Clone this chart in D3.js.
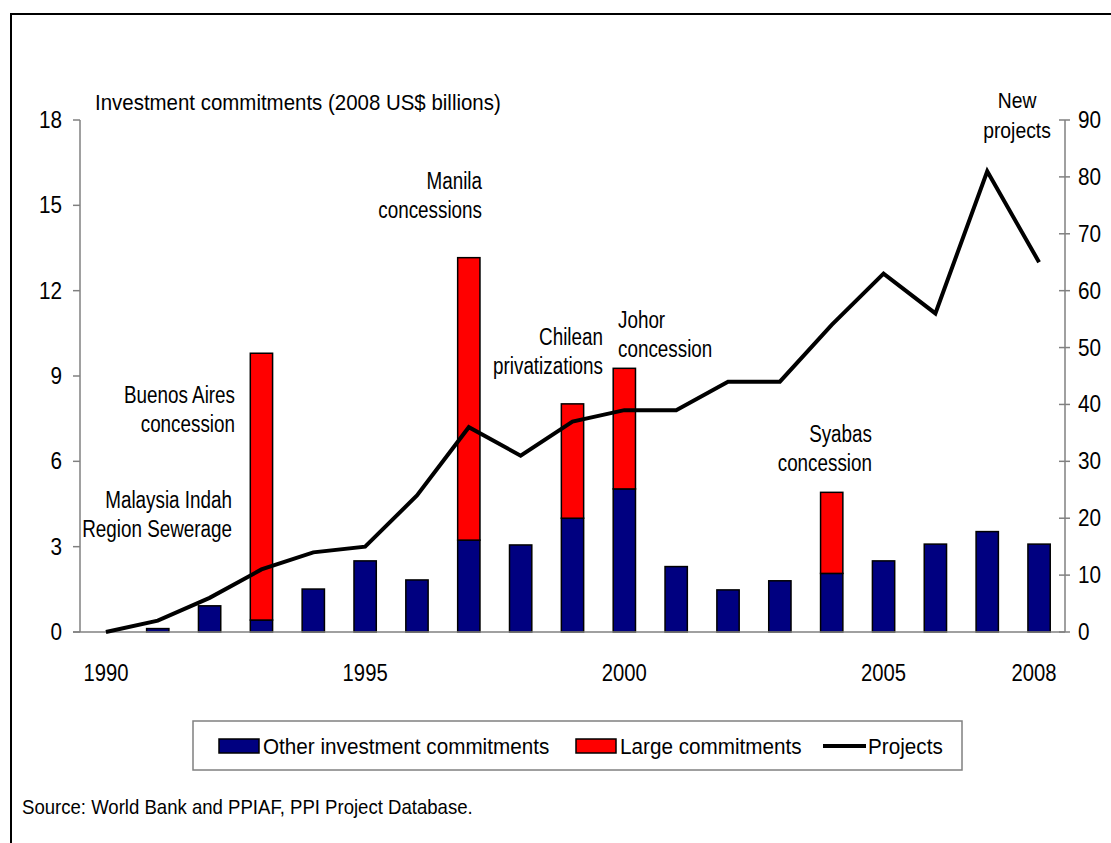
<!DOCTYPE html>
<html><head><meta charset="utf-8">
<script src="https://cdn.jsdelivr.net/npm/d3@7"></script>
<style>
html,body{margin:0;padding:0;background:#fff;}
svg{display:block;font-family:"Liberation Sans",Arial,sans-serif;}
</style></head>
<body>
<svg id="chart" width="1111" height="843"></svg>
<script>
const years = ["1990","1991","1992","1993","1994","1995","1996","1997","1998","1999","2000","2001","2002","2003","2004","2005","2006","2007","2008"];
const otherCommit = [0,0.12,0.92,0.42,1.51,2.5,1.83,3.23,3.06,4.0,5.03,2.3,1.48,1.8,2.06,2.5,3.09,3.53,3.09];
const largeCommit = [0,0,0,9.38,0,0,0,9.93,0,4.02,4.24,0,0,0,2.85,0,0,0,0];
const projects = [0,2,6,11,14,15,24,36,31,37,39,39,44,44,54,63,56,81,65];
const yearLabels = ["1990","1995","2000","2005","2008"];
const leftTicks = [0,3,6,9,12,15,18];
const rightTicks = [0,10,20,30,40,50,60,70,80,90];
const annotations = [
  {lines:["Manila","concessions"], x:482, y:189, anchor:"end"},
  {lines:["Buenos Aires","concession"], x:235, y:403, anchor:"end"},
  {lines:["Malaysia Indah","Region Sewerage"], x:232, y:508, anchor:"end"},
  {lines:["Chilean","privatizations"], x:603, y:345, anchor:"end"},
  {lines:["Johor","concession"], x:618, y:328, anchor:"start"},
  {lines:["Syabas","concession"], x:872, y:442, anchor:"end"}
];

const svg = d3.select("#chart");
const L = 80, R = 1065, T = 120, B = 632;
const x = d3.scaleBand().domain(years).range([L, R]).padding(0);
const yL = d3.scaleLinear().domain([0,18]).range([B,T]);
const yR = d3.scaleLinear().domain([0,90]).range([B,T]);
const barW = x.bandwidth()*0.43;

function txt(parent, px, py, s, size, anchor, sx){
  const g = parent.append("g").attr("transform",`translate(${px},${py}) scale(${sx},1)`);
  g.append("text").attr("x",0).attr("y",0).attr("text-anchor",anchor)
   .attr("font-size",size).attr("fill","#000").text(s);
  return g;
}

// frame
svg.append("path").attr("d","M11,843 L11,14 L1111,14").attr("fill","none").attr("stroke","#000").attr("stroke-width",2);

// bars
const data = years.map((yr,i)=>({yr, o:otherCommit[i], l:largeCommit[i], p:projects[i]}));
svg.append("g").selectAll("rect.o").data(data.filter(d=>d.o>0)).join("rect")
  .attr("x",d=>x(d.yr)+(x.bandwidth()-barW)/2).attr("width",barW)
  .attr("y",d=>yL(d.o)).attr("height",d=>yL(0)-yL(d.o))
  .attr("fill","#000080").attr("stroke","#000").attr("stroke-width",1.5);
svg.append("g").selectAll("rect.l").data(data.filter(d=>d.l>0)).join("rect")
  .attr("x",d=>x(d.yr)+(x.bandwidth()-barW)/2).attr("width",barW)
  .attr("y",d=>yL(d.o+d.l)).attr("height",d=>yL(d.o)-yL(d.o+d.l))
  .attr("fill","#ff0000").attr("stroke","#000").attr("stroke-width",1.5);

// axes
const axC = "#808080";
svg.append("line").attr("x1",L).attr("x2",L).attr("y1",T).attr("y2",B).attr("stroke",axC).attr("stroke-width",1.5);
svg.append("line").attr("x1",L-7).attr("x2",R).attr("y1",B).attr("y2",B).attr("stroke",axC).attr("stroke-width",1.5);
svg.append("line").attr("x1",R).attr("x2",R).attr("y1",T).attr("y2",B).attr("stroke",axC).attr("stroke-width",1.5);
leftTicks.forEach(t=>{
  svg.append("line").attr("x1",L-7).attr("x2",L).attr("y1",yL(t)).attr("y2",yL(t)).attr("stroke",axC).attr("stroke-width",1.5);
  txt(svg, 62, yL(t)+8, String(t), 23, "end", 0.9);
});
rightTicks.forEach(t=>{
  svg.append("line").attr("x1",R-6).attr("x2",R+5).attr("y1",yR(t)).attr("y2",yR(t)).attr("stroke",axC).attr("stroke-width",1.5);
  txt(svg, 1078, yR(t)+8, String(t), 23, "start", 0.9);
});
yearLabels.forEach(yr=>{
  txt(svg, x(yr)+x.bandwidth()/2 - (yr==="2008"?5:0), 681, yr, 23, "middle", 0.88);
});

// line
const line = d3.line().x(d=>x(d.yr)+x.bandwidth()/2).y(d=>yR(d.p));
svg.append("path").datum(data).attr("d",line).attr("fill","none").attr("stroke","#000").attr("stroke-width",4).attr("stroke-linejoin","miter");

// titles
txt(svg, 95, 110, "Investment commitments (2008 US$ billions)", 22, "start", 0.93);
txt(svg, 1017, 108, "New", 22.5, "middle", 0.86);
txt(svg, 1017, 138, "projects", 22.5, "middle", 0.86);

// annotations
annotations.forEach(a=>{
  a.lines.forEach((s,i)=>txt(svg, a.x, a.y + i*29, s, 23, a.anchor, 0.82));
});

// legend
svg.append("rect").attr("x",193).attr("y",721).attr("width",769).attr("height",49).attr("fill","#fff").attr("stroke",axC).attr("stroke-width",1.5);
svg.append("rect").attr("x",219).attr("y",739).attr("width",40).attr("height",14).attr("fill","#000080").attr("stroke","#000").attr("stroke-width",1.5);
txt(svg, 263, 754, "Other investment commitments", 22.5, "start", 0.92);
svg.append("rect").attr("x",576).attr("y",739).attr("width",40).attr("height",14).attr("fill","#ff0000").attr("stroke","#000").attr("stroke-width",1.5);
txt(svg, 620, 754, "Large commitments", 22.5, "start", 0.92);
svg.append("line").attr("x1",823).attr("x2",866).attr("y1",746).attr("y2",746).attr("stroke","#000").attr("stroke-width",4);
txt(svg, 868, 754, "Projects", 22.5, "start", 0.92);

// source
txt(svg, 22, 814, "Source: World Bank and PPIAF, PPI Project Database.", 21, "start", 0.885);
</script>
</body></html>
